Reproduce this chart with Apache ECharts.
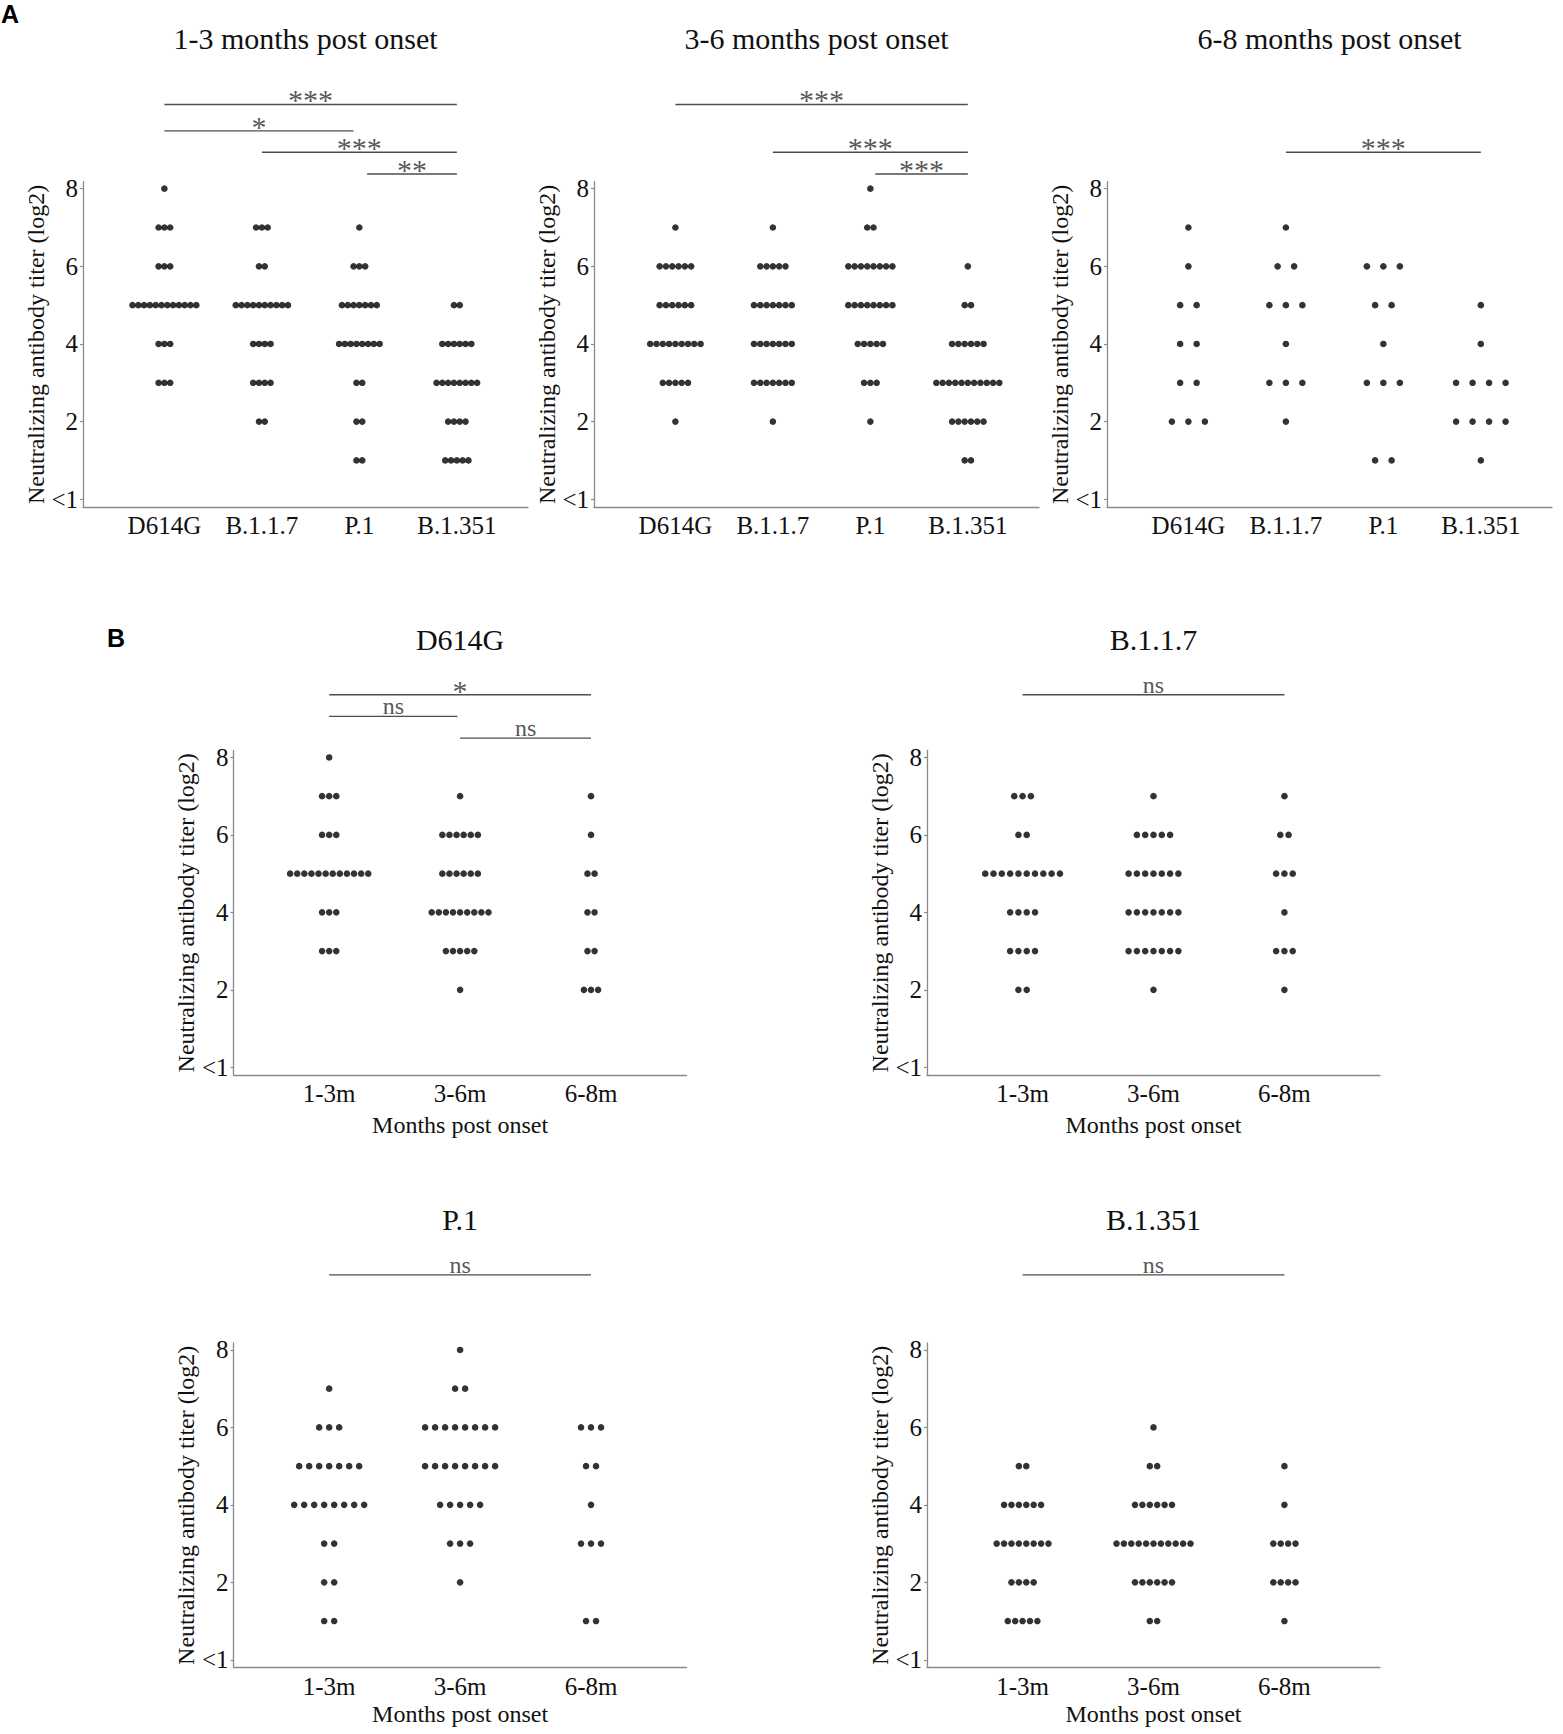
<!DOCTYPE html>
<html>
<head>
<meta charset="utf-8">
<title>Neutralizing antibody titers by variant and time post onset</title>
<script src="https://cdn.jsdelivr.net/npm/echarts@6/dist/echarts.min.js"></script>
<style>
  html, body { margin: 0; padding: 0; background: #fff; }
  #main { width: 1563px; height: 1734px; }
</style>
</head>
<body>
<div id="main"></div>
<script>
// titer levels (log2), "<1" is plotted at 0
var levels = [1, 2, 3, 4, 5, 6, 7, 8];
var yTicks = [0, 2, 4, 6, 8];
var variants = ['D614G', 'B.1.1.7', 'P.1', 'B.1.351'];
var periods = ['1-3m', '3-6m', '6-8m'];
var periodTitles = ['1-3 months post onset', '3-6 months post onset', '6-8 months post onset'];

// number of sera at each level (index = levels), one row per period
var d614g = [
  [0, 0, 3, 3, 12, 3, 3, 1],
  [0, 1, 5, 9, 6, 6, 1, 0],
  [0, 3, 2, 2, 2, 1, 1, 0]
];
var b117 = [
  [0, 2, 4, 4, 10, 2, 3, 0],
  [0, 1, 7, 7, 7, 5, 1, 0],
  [0, 1, 3, 1, 3, 2, 1, 0]
];
var p1 = [
  [2, 2, 2, 8, 7, 3, 1, 0],
  [0, 1, 3, 5, 8, 8, 2, 1],
  [2, 0, 3, 1, 2, 3, 0, 0]
];
var b1351 = [
  [5, 4, 8, 6, 2, 0, 0, 0],
  [2, 6, 11, 6, 2, 1, 0, 0],
  [1, 4, 4, 1, 1, 0, 0, 0]
];

// significance bars: [from, to, height, label]
var sigA = [
  [[1, 4, 10.17, '***'], [1, 2.94, 9.49, '*'], [2, 4, 8.94, '***'], [3.08, 4, 8.38, '**']],
  [[1, 4, 10.17, '***'], [2, 4, 8.94, '***'], [3.05, 4, 8.38, '***']],
  [[2, 4, 8.94, '***']]
];
var sigB = [
  [[1, 3, 9.62, '*'], [1, 1.98, 9.06, 'ns'], [2, 3, 8.5, 'ns']],
  [[1, 3, 9.62, 'ns']],
  [[1, 3, 9.94, 'ns']],
  [[1, 3, 9.94, 'ns']]
];

var byVariant = [d614g, b117, p1, b1351];

var chart = echarts.init(document.getElementById('main'), null, { renderer: 'svg' });

var serif = '"Liberation Serif", "Times New Roman", serif';
var ink = '#111';
var axisGray = '#8a8a8a';
var yMin = -0.2, yMax = 8.18;

var panels = [];
// panel A: one chart per period, variants on x
for (var p = 0; p < 3; p++) {
  panels.push({
    left: [83, 594, 1107][p], top: 181.7, width: 445, height: 325.3,
    xr: [0.165, 4.73], cats: variants,
    groups: byVariant.map(function (v) { return v[p]; }),
    spacing: [5.8, 6.3, 16.5][p],
    title: periodTitles[p], titleY: 38,
    sig: sigA[p], sigTop: 10.8,
    xName: '', nameGap: 0
  });
}
// panel B: one chart per variant, periods on x
for (var v = 0; v < 4; v++) {
  var col = v % 2, row = Math.floor(v / 2);
  panels.push({
    left: [233.6, 927][col], top: [750.5, 1343][row], width: 453, height: 324.5,
    xr: [0.27, 3.73], cats: periods,
    groups: byVariant[v],
    spacing: [7.1, 8.3, 10, 7.4][v],
    title: variants[v], titleY: [639.4, 1219][row],
    sig: sigB[v], sigTop: 10.6,
    xName: 'Months post onset', nameGap: [38, 34][row]
  });
}

var grids = [], xAxes = [], yAxes = [], series = [];
var graphics = [
  { type: 'text', x: 1, y: 14, style: { text: 'A', fill: '#000', font: 'bold 25px "Liberation Sans", Arial, sans-serif', textAlign: 'left', align: 'left', textVerticalAlign: 'middle', verticalAlign: 'middle' } },
  { type: 'text', x: 107, y: 638, style: { text: 'B', fill: '#000', font: 'bold 25px "Liberation Sans", Arial, sans-serif', textAlign: 'left', align: 'left', textVerticalAlign: 'middle', verticalAlign: 'middle' } }
];

panels.forEach(function (pn) {
  var gi = grids.length;
  var unitY = pn.height / (yMax - yMin);
  var sigH = (pn.sigTop - yMax) * unitY;
  var unitX = pn.width / (pn.xr[1] - pn.xr[0]);
  var dx = pn.spacing / unitX;

  grids.push({ left: pn.left, top: pn.top, width: pn.width, height: pn.height });
  grids.push({ left: pn.left, top: pn.top - sigH, width: pn.width, height: sigH });

  xAxes.push({
    gridIndex: gi, type: 'value', min: pn.xr[0], max: pn.xr[1],
    axisLine: { show: true, onZero: false, lineStyle: { color: axisGray, width: 1.3 } },
    axisTick: { show: false },
    splitLine: { show: false },
    axisLabel: {
      customValues: pn.cats.map(function (c, i) { return i + 1; }),
      formatter: function (val) { return pn.cats[Math.round(val) - 1]; },
      fontFamily: serif, fontSize: 25, color: ink, margin: 6
    },
    name: pn.xName, nameLocation: 'middle', nameGap: pn.nameGap,
    nameTextStyle: { fontFamily: serif, fontSize: 24, color: ink }
  });
  xAxes.push({ gridIndex: gi + 1, type: 'value', min: pn.xr[0], max: pn.xr[1], show: false });

  yAxes.push({
    gridIndex: gi, type: 'value', min: yMin, max: yMax,
    axisLine: { show: true, onZero: false, lineStyle: { color: axisGray, width: 1.3 } },
    axisTick: { show: true, length: 3, customValues: yTicks, lineStyle: { color: axisGray, width: 1.2 } },
    splitLine: { show: false },
    axisLabel: {
      customValues: yTicks,
      formatter: function (val) { return val === 0 ? '<1' : String(val); },
      fontFamily: serif, fontSize: 25, color: ink, margin: 5
    },
    name: 'Neutralizing antibody titer (log2)', nameLocation: 'middle', nameGap: 31,
    nameTextStyle: { fontFamily: serif, fontSize: 24, color: ink }
  });
  yAxes.push({ gridIndex: gi + 1, type: 'value', min: yMax, max: pn.sigTop, show: false });

  // dots stacked side by side around each category
  var pts = [];
  pn.groups.forEach(function (cnt, g) {
    levels.forEach(function (lv, li) {
      var c = cnt[li];
      for (var j = 0; j < c; j++) {
        pts.push([g + 1 + (j - (c - 1) / 2) * dx, lv]);
      }
    });
  });
  series.push({
    type: 'scatter', xAxisIndex: gi, yAxisIndex: gi, data: pts,
    symbolSize: 6.6, itemStyle: { color: '#000' }, silent: true
  });

  pn.sig.forEach(function (s) {
    series.push({
      type: 'line', xAxisIndex: gi + 1, yAxisIndex: gi + 1,
      data: [[s[0], s[2]], [s[1], s[2]]],
      symbol: 'none', lineStyle: { color: '#4d4d4d', width: 1.4 }, silent: true
    });
    var star = s[3] !== 'ns';
    series.push({
      type: 'scatter', xAxisIndex: gi + 1, yAxisIndex: gi + 1,
      data: [[(s[0] + s[1]) / 2, s[2]]],
      symbolSize: 1, itemStyle: { color: 'rgba(0,0,0,0)' }, silent: true,
      label: {
        show: true, position: 'top', distance: star ? -11 : -2.5,
        formatter: s[3], fontFamily: serif, fontSize: star ? 30 : 24, color: '#2a2a2a'
      }
    });
  });

  graphics.push({
    type: 'text', x: pn.left + pn.width / 2, y: pn.titleY,
    style: { text: pn.title, fill: ink, font: '30px ' + serif, textAlign: 'center', align: 'center', textVerticalAlign: 'middle', verticalAlign: 'middle' }
  });
});

chart.setOption({
  backgroundColor: '#fff',
  animation: false,
  grid: grids,
  xAxis: xAxes,
  yAxis: yAxes,
  series: series,
  graphic: graphics
});
</script>
</body>
</html>
